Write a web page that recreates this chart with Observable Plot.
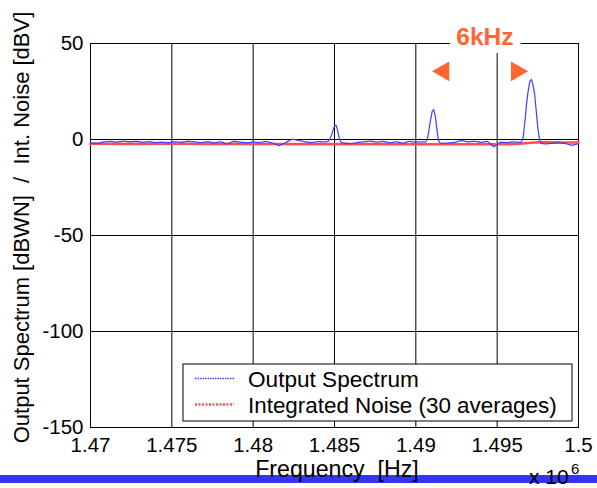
<!DOCTYPE html>
<html>
<head>
<meta charset="utf-8">
<script src="https://cdn.jsdelivr.net/npm/d3@7"></script>
<script src="https://cdn.jsdelivr.net/npm/@observablehq/plot@0.6"></script>
<style>
  html, body { margin: 0; padding: 0; background: #fff; }
  svg { display: block; }
</style>
</head>
<body>
<div id="chart"></div>
<script>
// ---- data ----
const xTicks = [1.47, 1.475, 1.48, 1.485, 1.49, 1.495, 1.5];
const xTickLabels = ["1.47", "1.475", "1.48", "1.485", "1.49", "1.495", "1.5"];
const yTicks = [-150, -100, -50, 0, 50];
const yTickLabels = ["-150", "-100", "-50", "0", "50"];

// output spectrum noise floor, sampled every 0.0004 (x 10^6 Hz) from 1.470
const floorStart = 1.470;
const floorStep = 0.0004;
const floorDb = [
  -1.8, -2.0, -1.3, -1.0, -1.4, -0.8, -1.2, -0.9, -1.5, -1.1,
  -1.6, -1.4, -1.7, -1.2, -1.5, -0.9, -1.3, -1.6, -1.1, -1.8,
  -1.2, -2.4, -0.9, -1.4, -1.7, -1.3, -1.6, -1.0, -1.9, -3.2,
  -1.6, 0.2, -0.5, -1.2, -1.6, -1.1, -1.3, -1.2, -1.2, -1.9,
  -2.2, -1.6, -1.2, -0.8, -1.4, -1.0, -1.7, -1.2, -1.9, -1.0,
  -1.4, -1.2, -1.2, -1.2, -2.0, -1.8, -1.5, -0.5, -1.3, -0.9,
  -1.5, -1.0, -3.8, -1.4, -1.6, -1.2, -1.5, -1.5, -1.5, -1.5,
  -2.3, -2.0, -1.7, -2.1, -3.0, -2.2
];

// spectral peaks
const peak1Freq = [1.4846, 1.4847, 1.4848, 1.4849, 1.4850, 1.4851, 1.4852, 1.4853, 1.4854, 1.4855];
const peak1Db   = [-1.0, 0.2, 2.0, 4.5, 7.2, 7.4, 4.5, 0.5, -1.5, -1.8];
const peak2Freq = [1.4906, 1.4907, 1.4908, 1.4909, 1.4910, 1.4911, 1.4912, 1.4913, 1.4914, 1.4915];
const peak2Db   = [-1.3, 0.0, 4.5, 10.0, 14.5, 15.6, 12.0, 5.0, -0.8, -1.8];
const peak3Freq = [1.4965, 1.4966, 1.4967, 1.4968, 1.4969, 1.4970, 1.4971, 1.4972, 1.4973, 1.4974, 1.4975, 1.4976, 1.4977];
const peak3Db   = [-1.3, 1.0, 9.0, 18.0, 25.0, 30.0, 31.3, 28.5, 24.0, 15.0, 6.0, 0.3, -2.0];

// integrated noise (30 averages)
const noiseFreq = [1.470, 1.4725, 1.475, 1.4775, 1.480, 1.4825, 1.485, 1.4875, 1.490, 1.4925, 1.4955, 1.4962, 1.4968, 1.4974, 1.4985, 1.500];
const noiseDb   = [-2.2, -2.3, -2.2, -2.3, -2.3, -2.4, -2.4, -2.4, -2.5, -2.5, -2.5, -2.3, -1.9, -1.5, -1.5, -1.6];

// annotation
const annLabel = "6kHz";
const annLabelFreq = 1.49425;
const annLabelDb = 53.5;
const annArrowFreq = [1.4917, 1.4962];
const annArrowDb = [35.5, 35.5];
const annArrowRotate = [-90, 90];

const seriesNames = ["Output Spectrum", "Integrated Noise (30 averages)"];

// ---- build tables ----
const peaks = [[peak1Freq, peak1Db], [peak2Freq, peak2Db], [peak3Freq, peak3Db]];
const spectrum = [];
floorDb.forEach((v, i) => {
  const f = floorStart + i * floorStep;
  const inPeak = peaks.some(([pf]) => f >= pf[0] && f <= pf[pf.length - 1]);
  if (!inPeak) spectrum.push({f, v});
});
peaks.forEach(([pf, pv]) => pf.forEach((f, i) => spectrum.push({f, v: pv[i]})));
spectrum.sort((a, b) => a.f - b.f);
const noise = noiseFreq.map((f, i) => ({f, v: noiseDb[i]}));
const arrows = annArrowFreq.map((f, i) => ({f, v: annArrowDb[i], r: annArrowRotate[i]}));

const FONT = "'Liberation Sans', Arial, Helvetica, sans-serif";
const ORANGE = "#ff6633";
const BLUE = "#4040ff";
const RED = "#ff4d4d";

const chart = Plot.plot({
  width: 597,
  height: 488,
  marginLeft: 90,
  marginRight: 19,
  marginTop: 43,
  marginBottom: 61,
  style: {fontFamily: FONT, fontSize: "20.5px", color: "#000", background: "#fff", overflow: "visible"},
  x: {domain: [1.47, 1.5]},
  y: {domain: [-150, 50]},
  marks: [
    Plot.ruleX(xTicks, {stroke: "#000", strokeWidth: 1}),
    Plot.ruleY(yTicks, {stroke: "#000", strokeWidth: 1}),
    Plot.frame({stroke: "#000", strokeWidth: 1}),
    Plot.axisX({ticks: xTicks, tickFormat: d => xTickLabels[xTicks.indexOf(d)], tickSize: 0, tickPadding: 10, label: null}),
    Plot.axisY({ticks: yTicks, tickFormat: d => yTickLabels[yTicks.indexOf(d)], tickSize: 0, tickPadding: 7, label: null}),
    Plot.line(noise, {x: "f", y: "v", stroke: RED, strokeWidth: 2.6, strokeDasharray: "2,1.5"}),
    Plot.line(spectrum, {x: "f", y: "v", stroke: BLUE, strokeWidth: 1.3, strokeDasharray: "1.5,1"}),
    Plot.text([annLabel], {x: () => annLabelFreq, y: () => annLabelDb, text: d => d, fill: ORANGE,
      stroke: "#fff", strokeWidth: 16, fontSize: 24.5, fontWeight: "bold", textAnchor: "middle", clip: false}),
    Plot.dot(arrows, {x: "f", y: "v", rotate: "r", symbol: "triangle2", r: 9.5, fill: ORANGE, stroke: "none"})
  ]
});

document.getElementById("chart").appendChild(chart);

// ---- decorations: bar, labels, legend ----
const svg = d3.select(chart);

svg.append("rect")
  .attr("x", 0).attr("y", 475).attr("width", 597).attr("height", 8)
  .attr("fill", "#3535f8");

const txt = (x, y, s, size, anchor = "start", extra = {}) => {
  const t = svg.append("text").attr("x", x).attr("y", y).text(s)
    .attr("font-family", FONT).attr("font-size", size).attr("fill", "#000")
    .attr("text-anchor", anchor).style("text-anchor", anchor);
  Object.entries(extra).forEach(([k, v]) => t.attr(k, v));
  return t;
};

// y label
txt(0, 0, "Output Spectrum [dBWN]  /  Int. Noise [dBV]", 22, "middle", {
  transform: "translate(28.5,227.5) rotate(-90)"
});
// x label
txt(337, 477, "Frequency  [Hz]", 23.2, "middle");
// exponent
txt(529, 483.5, "x 10", 21);
txt(571, 474, "6", 15);

// legend
const lg = svg.append("g");
lg.append("rect").attr("x", 183).attr("y", 364).attr("width", 389).attr("height", 57)
  .attr("fill", "#fff").attr("stroke", "#000").attr("stroke-width", 1);
lg.append("line").attr("x1", 195).attr("x2", 234).attr("y1", 378.5).attr("y2", 378.5)
  .attr("stroke", BLUE).attr("stroke-width", 1.3).attr("stroke-dasharray", "1.5,1");
lg.append("line").attr("x1", 195).attr("x2", 234).attr("y1", 404.5).attr("y2", 404.5)
  .attr("stroke", RED).attr("stroke-width", 2.6).attr("stroke-dasharray", "2,1.5");
txt(248, 387, seriesNames[0], 22.6);
txt(248, 412.5, seriesNames[1], 22.4);
</script>
</body>
</html>
